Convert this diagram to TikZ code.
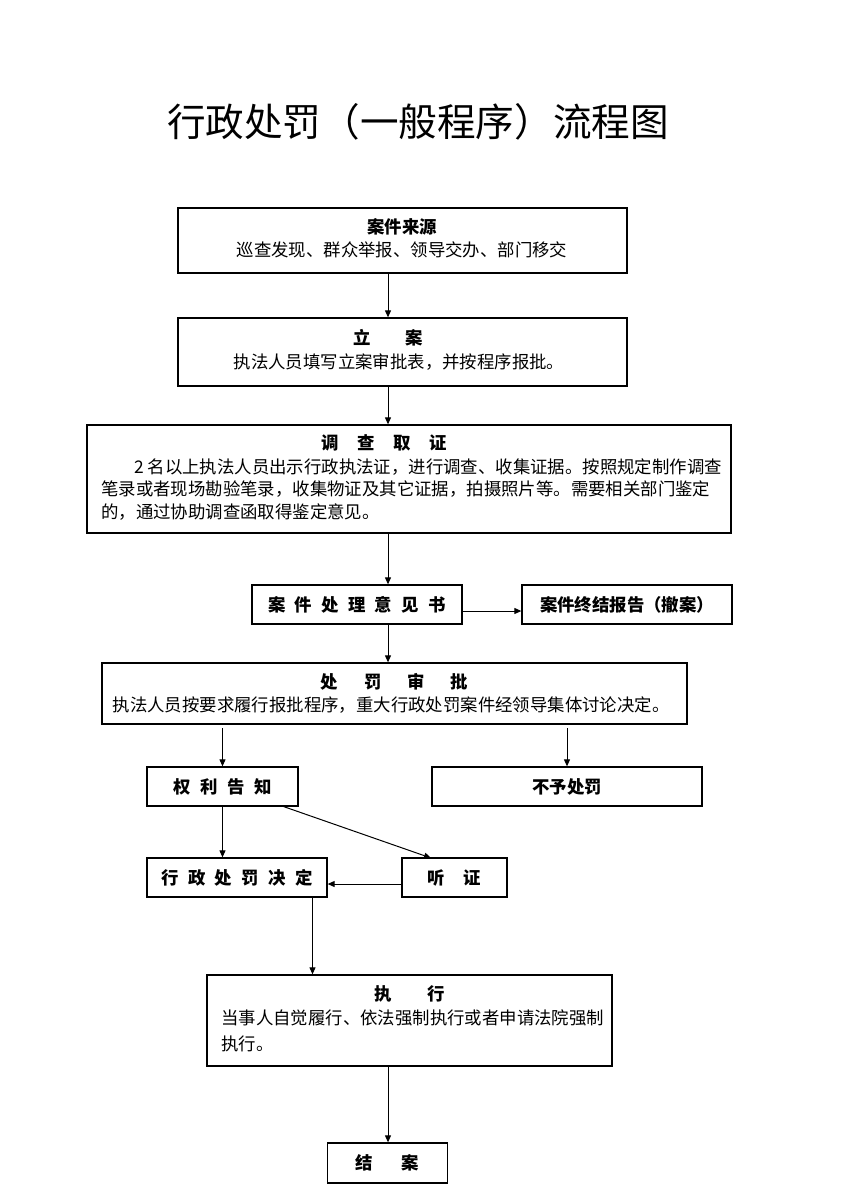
\documentclass[tikz,border=0pt]{standalone}
\usepackage{fontspec}
\setmainfont{Noto Sans CJK SC}
\usetikzlibrary{arrows.meta}
\tikzset{
  box/.style={draw=black, line width=1.3pt, inner sep=0pt, fill=white},
  txt/.style={inner sep=0pt, font=\fontsize{17.4}{20}\selectfont, text height=15.3pt, text depth=2.1pt},
  hd/.style={txt, font=\fontsize{17.4}{20}\selectfont\bfseries},
  arr/.style={draw=black, line width=1pt, -{Triangle[length=7pt,width=6pt]}},
}
\begin{document}
\begin{tikzpicture}[x=1pt,y=-1pt]
\useasboundingbox (0,0) rectangle (847,1204);
\fill[white] (0,0) rectangle (847,1204);
% title
\node[inner sep=0pt, font=\fontsize{38.6}{40}\selectfont, text height=34pt, text depth=4.6pt] (title) at (418,122) {行政处罚（一般程序）流程图};
% boxes
\node[box, minimum width=449pt, minimum height=65pt] (b1) at (402.5,240.5) {};
\node[box, minimum width=449pt, minimum height=68pt] (b2) at (402.5,352) {};
\node[box, minimum width=644pt, minimum height=108pt] (b3) at (409,479) {};
\node[box, minimum width=210pt, minimum height=39pt, hd] (b4) at (357,604.5) {案\hspace{9.3pt}件\hspace{9.3pt}处\hspace{9.3pt}理\hspace{9.3pt}意\hspace{9.3pt}见\hspace{9.3pt}书};
\node[box, minimum width=210pt, minimum height=39pt, hd] (b5) at (627,604.5) {案件终结报告（撤案）};
\node[box, minimum width=585pt, minimum height=61pt] (b6) at (394.5,693.5) {};
\node[box, minimum width=151pt, minimum height=39pt, hd] (b7) at (222.5,786.5) {权\hspace{9.5pt}利\hspace{9.5pt}告\hspace{9.5pt}知};
\node[box, minimum width=270pt, minimum height=39pt, hd] (b8) at (567,786.5) {不予处罚};
\node[box, minimum width=180pt, minimum height=39pt, hd] (b9) at (237,877.5) {行\hspace{9.3pt}政\hspace{9.3pt}处\hspace{9.3pt}罚\hspace{9.3pt}决\hspace{9.3pt}定};
\node[box, minimum width=105pt, minimum height=39pt, hd] (b10) at (454.5,877.5) {听\hspace{18.6pt}证};
\node[box, minimum width=405pt, minimum height=91pt] (b11) at (409.5,1020.5) {};
\node[box, minimum width=120pt, minimum height=40pt, hd] (b12) at (387.5,1163) {结\hspace{28.7pt}案};
% texts inside multi-line boxes
\node[hd] (t1a) at (402,227) {案件来源};
\node[txt] (t1b) at (402,250) {巡查发现、群众举报、领导交办、部门移交};
\node[hd] (t2a) at (388,338) {立\hspace{35pt}案};
\node[txt] (t2b) at (399,361.5) {执法人员填写立案审批表，并按程序报批。};
\node[hd] (t3a) at (384,442.5) {调\hspace{18.7pt}查\hspace{18.7pt}取\hspace{18.7pt}证};
\node[txt, anchor=west] (t3b) at (134,466.5) {2 名以上执法人员出示行政执法证，进行调查、收集证据。按照规定制作调查};
\node[txt, anchor=west] (t3c) at (101,489) {笔录或者现场勘验笔录，收集物证及其它证据，拍摄照片等。需要相关部门鉴定};
\node[txt, anchor=west] (t3d) at (101,511.5) {的，通过协助调查函取得鉴定意见。};
\node[hd] (t6a) at (394.5,682) {处\hspace{26pt}罚\hspace{26pt}审\hspace{26pt}批};
\node[txt] (t6b) at (391,705) {执法人员按要求履行报批程序，重大行政处罚案件经领导集体讨论决定。};
\node[hd] (t11a) at (410,994) {执\hspace{36pt}行};
\node[txt, anchor=west] (t11b) at (221,1018) {当事人自觉履行、依法强制执行或者申请法院强制};
\node[txt, anchor=west] (t11c) at (221,1044) {执行。};
% axis coordinates
\coordinate (ax) at (388,0);
\coordinate (lx) at (222.5,0);
\coordinate (rx) at (567,0);
\coordinate (dx) at (312.5,0);
\coordinate (y4) at (0,611);
\coordinate (y9) at (0,884);
\coordinate (s6l) at (222.5,728);
\coordinate (s6r) at (567,728);
\coordinate (dgs) at (282,806);
\coordinate (dge) at (431,858);
% connectors
\draw[arr] (b1.south -| ax) -- (b2.north -| ax);
\draw[arr] (b2.south -| ax) -- (b3.north -| ax);
\draw[arr] (b3.south -| ax) -- (b4.north -| ax);
\draw[arr] (b4.east |- y4) -- (b5.west |- y4);
\draw[arr] (b4.south -| ax) -- (b6.north -| ax);
\draw[arr] (s6l) -- (b7.north -| lx);
\draw[arr] (s6r) -- (b8.north -| rx);
\draw[arr] (b7.south -| lx) -- (b9.north -| lx);
\draw[arr] (dgs) -- (dge);
\draw[arr] (b10.west |- y9) -- (b9.east |- y9);
\draw[arr] (b9.south -| dx) -- (b11.north -| dx);
\draw[arr] (b11.south -| ax) -- (b12.north -| ax);
\end{tikzpicture}
\end{document}
